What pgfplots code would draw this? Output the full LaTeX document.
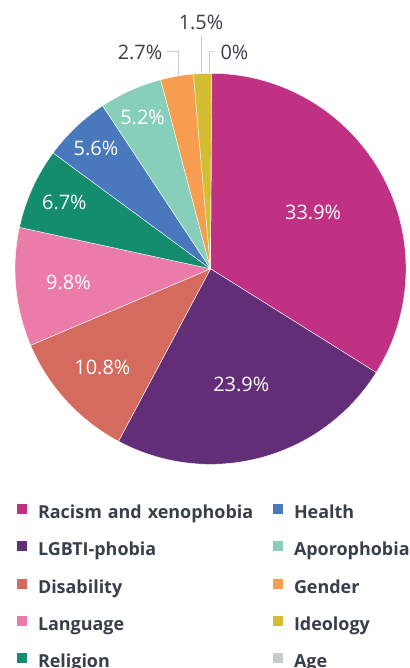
\documentclass[border=0pt]{standalone}
\usepackage{pgfplots}
\pgfplotsset{compat=1.18}
\usepackage{pgfplotstable}
\usepackage{fontspec}
\setmainfont{Open Sans}

\definecolor{racism}{RGB}{192,49,132}
\definecolor{lgbti}{RGB}{99,46,120}
\definecolor{disab}{RGB}{212,107,94}
\definecolor{lang}{RGB}{235,123,168}
\definecolor{relig}{RGB}{20,140,110}
\definecolor{health}{RGB}{74,120,188}
\definecolor{aporo}{RGB}{136,207,187}
\definecolor{gender}{RGB}{247,157,80}
\definecolor{ideol}{RGB}{212,188,52}
\definecolor{age}{RGB}{197,204,202}
\definecolor{txt}{RGB}{55,63,75}
\definecolor{leader}{RGB}{200,205,205}

% value, colour, label radius (fraction of pie radius; 0 = label outside)
\pgfplotstableread[col sep=comma]{
name,value,col,rf
Racism and xenophobia,33.9,racism,0.60
LGBTI-phobia,23.9,lgbti,0.61
Disability,10.8,disab,0.75
Language,9.8,lang,0.73
Religion,6.7,relig,0.82
Health,5.6,health,0.85
Aporophobia,5.2,aporo,0.85
Gender,2.7,gender,0
Ideology,1.5,ideol,0
Age,0,age,0
}\slices

\begin{document}
\begin{tikzpicture}
\begin{axis}[
    width=410bp, height=668bp, scale only axis,
    xmin=0, xmax=410, ymin=0, ymax=668,
    enlargelimits=false, hide axis,
    legend columns=2,
    legend cell align=left,
    legend image code/.code={\fill[#1, draw=none] (0bp,0bp) rectangle (10bp,10bp);},
    legend style={draw=none, fill=none, inner sep=0pt, outer sep=0pt,
        at={(axis cs:17,163.8)}, anchor=north west,
        column sep=11bp, row sep=18.7bp,
        nodes={text width=224bp, align=left, inner sep=0pt,
               text height=13bp, text depth=4bp,
               font=\fontsize{18}{20}\selectfont\bfseries, text=txt}},
]
\addlegendimage{fill=racism}\addlegendentry{Racism and xenophobia}
\addlegendimage{fill=health}\addlegendentry{Health}
\addlegendimage{fill=lgbti}\addlegendentry{LGBTI-phobia}
\addlegendimage{fill=aporo}\addlegendentry{Aporophobia}
\addlegendimage{fill=disab}\addlegendentry{Disability}
\addlegendimage{fill=gender}\addlegendentry{Gender}
\addlegendimage{fill=lang}\addlegendentry{Language}
\addlegendimage{fill=ideol}\addlegendentry{Ideology}
\addlegendimage{fill=relig}\addlegendentry{Religion}
\addlegendimage{fill=age}\addlegendentry{Age}

\pgfplotsextra{
  \gdef\angstart{90}
  \foreach \i in {0,...,9}{
    \pgfplotstablegetelem{\i}{value}\of\slices \let\v\pgfplotsretval
    \pgfplotstablegetelem{\i}{col}\of\slices \let\c\pgfplotsretval
    \pgfplotstablegetelem{\i}{rf}\of\slices \let\rf\pgfplotsretval
    \pgfmathsetmacro\angend{\angstart-3.6*\v}
    \pgfmathsetmacro\mid{(\angstart+\angend)/2}
    \fill[fill=\c, draw=white, line width=0.4pt] (axis cs:210.5,399.2) -- ++(\angstart:195.5bp)
        arc[start angle=\angstart, end angle=\angend, radius=195.5bp] -- cycle;
    \pgfmathparse{\rf>0 ? 1 : 0}
    \ifnum\pgfmathresult=1
      \path (axis cs:210.5,399.2) ++(\mid:\rf*195.5bp)
        node[text=white, font=\fontsize{20}{20}\selectfont] {\v\%};
    \fi
    \xdef\angstart{\angend}
  }
}

% small slices: labels outside with leader lines
\draw[leader, line width=1bp] (axis cs:167,616) -- (axis cs:178,616) -- (axis cs:178,593);
\draw[leader, line width=1bp] (axis cs:201,633) -- (axis cs:201,595);
\draw[leader, line width=1bp] (axis cs:214,616) -- (axis cs:209.5,616) -- (axis cs:209.5,595);
\node[text=txt, font=\fontsize{20}{20}\selectfont] at (axis cs:140,615.5) {2.7\%};
\node[text=txt, font=\fontsize{20}{20}\selectfont] at (axis cs:201,645.5) {1.5\%};
\node[text=txt, font=\fontsize{20}{20}\selectfont, anchor=west] at (axis cs:217,615.5) {0\%};
\end{axis}
\pgfresetboundingbox
\path[use as bounding box] (current axis.south west) rectangle (current axis.north east);
\end{tikzpicture}
\end{document}
